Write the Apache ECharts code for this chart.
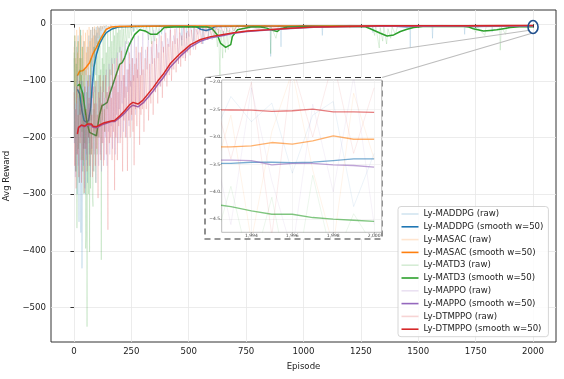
<!DOCTYPE html>
<html><head><meta charset="utf-8">
<script src="https://cdn.jsdelivr.net/npm/echarts@6/dist/echarts.min.js"></script>
<style>html,body{margin:0;padding:0;background:#fff}#c{width:564px;height:379px}</style>
</head><body><div id="c"></div>
<script>
// ---------------- DATA ----------------
const xTicks = [0, 250, 500, 750, 1000, 1250, 1500, 1750, 2000];
const yTicks = [-500, -400, -300, -200, -100, 0];
const insetXTicks = [1994, 1996, 1998, 2000];
const insetYTicks = [-4.5, -4.0, -3.5, -3.0, -2.5, -2.0];
const modelNames = ['Ly-MADDPG', 'Ly-MASAC', 'Ly-MATD3', 'Ly-MAPPO', 'Ly-DTMPPO'];

const maddpgSmooth = [[15,-115],[25,-123],[35,-153],[44,-170],[54,-173],[64,-170],[73,-147],[79,-112],[87,-76],[98,-53],[112,-35],[127,-23],[141,-15],[163,-9],[192,-5],[250,-4],[350,-3.5],[450,-3.3],[530,-4],[552,-9],[575,-11],[596,-9],[615,-4],[700,-3.5],[800,-3.3],[900,-3.6],[1000,-3.4],[1100,-3.6],[1200,-3.3],[1300,-3.5],[1400,-3.6],[1450,-4.5],[1500,-3.5],[1600,-3.4],[1700,-3.6],[1750,-4],[1800,-3.5],[1900,-3.5],[1992,-3.48],[1993,-3.48],[1994,-3.46],[1995,-3.46],[1996,-3.47],[1997,-3.46],[1998,-3.43],[1999,-3.40],[2000,-3.40]];
const masacSmooth = [[15,-91],[25,-83],[39,-82],[53,-76],[68,-68],[82,-53],[98,-41],[112,-29],[127,-18],[141,-9],[163,-5],[192,-4],[300,-3.5],[400,-3.2],[500,-3.4],[600,-3.1],[700,-3.3],[800,-3.2],[900,-3.4],[1000,-3.2],[1100,-3.3],[1200,-3.1],[1300,-3.3],[1400,-3.2],[1500,-3.4],[1600,-3.2],[1700,-3.3],[1800,-3.2],[1900,-3.1],[1992,-3.18],[1993,-3.18],[1994,-3.16],[1995,-3.10],[1996,-3.13],[1997,-3.07],[1998,-2.98],[1999,-3.04],[2000,-3.04]];
const matd3Smooth = [[15,-109],[25,-106],[39,-123],[49,-153],[58,-176],[68,-191],[83,-194],[98,-197],[105,-176],[112,-159],[122,-144],[134,-141],[145,-138],[156,-123],[170,-106],[185,-88],[199,-71],[210,-68],[221,-59],[236,-41],[250,-29],[265,-18],[286,-10],[310,-12],[335,-18],[360,-18],[378,-12],[393,-6],[436,-5],[508,-4.5],[580,-5],[600,-7],[625,-19],[639,-34],[661,-41],[683,-36],[690,-22],[712,-10],[770,-5],[813,-5],[840,-7],[857,-10],[886,-13],[900,-8],[930,-5],[1000,-4],[1100,-4.2],[1200,-4],[1270,-4.5],[1291,-8],[1335,-16],[1364,-21],[1393,-19],[1422,-13],[1451,-9],[1480,-6],[1520,-4.2],[1600,-4],[1700,-4.2],[1720,-5],[1740,-8],[1784,-12],[1813,-11],[1842,-10],[1871,-8],[1900,-6],[1940,-4.6],[1992,-4.22],[1993,-4.27],[1994,-4.35],[1995,-4.41],[1996,-4.41],[1997,-4.47],[1998,-4.5],[1999,-4.52],[2000,-4.54]];
const mappoSmooth = [[15,-192],[20,-183],[27,-186],[33,-179],[39,-177],[46,-181],[53,-182],[60,-178],[68,-180],[76,-178],[83,-182],[90,-180],[98,-183],[105,-185],[112,-180],[119,-180],[126,-177],[134,-178],[141,-175],[163,-172],[177,-172],[199,-165],[221,-157],[243,-147],[257,-143],[279,-146],[301,-139],[323,-129],[345,-118],[366,-106],[388,-95],[421,-75],[465,-56],[508,-40],[552,-30],[596,-24],[639,-21],[697,-16],[755,-13],[843,-10.5],[944,-7.5],[1045,-5.5],[1190,-4.3],[1335,-3.7],[1500,-3.5],[1700,-3.4],[1900,-3.45],[1992,-3.42],[1993,-3.42],[1994,-3.43],[1995,-3.51],[1996,-3.48],[1997,-3.48],[1998,-3.51],[1999,-3.52],[2000,-3.55]];
const dtmppoSmooth = [[15,-194],[20,-182],[27,-185],[33,-178],[39,-176],[46,-180],[53,-181],[60,-176],[68,-178],[76,-176],[83,-180],[90,-178],[98,-181],[105,-183],[112,-178],[119,-178],[126,-175],[134,-176],[141,-173],[163,-171],[177,-170],[199,-162],[221,-153],[243,-142],[257,-138],[279,-141],[301,-134],[323,-123],[345,-112],[366,-100],[388,-89],[421,-69],[465,-51],[508,-36],[552,-27],[596,-22],[639,-19],[697,-15],[755,-12],[843,-10],[944,-7],[1045,-5],[1190,-4],[1335,-3],[1500,-2.8],[1700,-2.6],[1900,-2.55],[1992,-2.5],[1993,-2.506],[1994,-2.51],[1995,-2.53],[1996,-2.52],[1997,-2.49],[1998,-2.54],[1999,-2.54],[2000,-2.55]];

const maddpgRaw = [[0,-60],[2,-210],[4,-30],[6,-150],[8,-260],[10,-90],[12,-40],[14,-300],[16,-120],[18,-20],[20,-200],[22,-349],[24,-80],[26,-160],[28,-10],[30,-368],[32,-140],[34,-60],[35,-431],[37,-180],[39,-100],[41,-250],[43,-30],[45,-220],[47,-120],[49,-300],[51,-80],[53,-240],[55,-150],[57,-40],[59,-280],[61,-110],[63,-200],[65,-20],[67,-230],[69,-90],[71,-150],[73,-10],[75,-170],[77,-60],[79,-130],[81,-5],[83,-90],[85,-40],[87,-120],[89,-8],[91,-70],[93,-20],[95,-90],[97,-5],[99,-60],[101,-15],[103,-50],[105,-4],[108,-40],[111,-6],[114,-30],[117,-3],[120,-25],[124,-4],[128,-18],[132,-3],[136,-12],[140,-2],[145,-10],[150,-3],[155,-8],[160,-2],[170,-6],[180,-2],[190,-5],[200,-2],[258,-3],[260,-14],[262,-3],[380,-3],[382,-18],[384,-3],[468,-3],[470,-38],[472,-3],[488,-3],[490,-25],[492,-3],[520,-3],[522,-30],[524,-3],[560,-3],[562,-35],[564,-3],[585,-3],[587,-22],[589,-3],[855,-3],[857,-57],[859,-3],[900,-3],[902,-40],[904,-3],[1080,-3],[1082,-20],[1084,-3],[1300,-3],[1302,-15],[1304,-3],[1463,-3],[1465,-42],[1467,-3],[1560,-3],[1562,-25],[1564,-3],[1700,-3],[1702,-18],[1704,-3],[1820,-3],[1822,-14],[1824,-3],[1992,-3.1],[1993,-2.26],[1994,-2.72],[1995,-2.38],[1996,-3.66],[1997,-2.6],[1998,-2.35],[1999,-4.27],[2000,-3.3]];
const masacRaw = [[0,-40],[2,-150],[4,-20],[6,-110],[8,-60],[10,-140],[12,-10],[14,-100],[16,-50],[18,-130],[20,-30],[22,-90],[24,-5],[26,-120],[28,-60],[30,-100],[32,-20],[34,-140],[36,-40],[38,-90],[40,-10],[42,-110],[44,-70],[46,-30],[48,-120],[50,-15],[52,-90],[54,-50],[56,-100],[58,-10],[60,-80],[62,-40],[64,-110],[66,-5],[68,-70],[70,-30],[72,-90],[74,-10],[76,-60],[78,-25],[80,-75],[82,-5],[84,-50],[86,-20],[88,-60],[90,-4],[93,-40],[96,-10],[99,-35],[102,-3],[105,-25],[108,-6],[111,-20],[114,-3],[118,-12],[122,-3],[126,-9],[130,-2],[135,-6],[140,-2],[150,-5],[160,-2],[180,-4],[200,-2.5],[400,-3],[402,-9],[404,-3],[700,-3],[702,-8],[704,-3],[1200,-3],[1202,-7],[1204,-3],[1600,-3],[1602,-6],[1604,-3],[1992,-3.9],[1993,-2.6],[1994,-4.9],[1995,-2.9],[1996,-1.8],[1997,-3.6],[1998,-5.0],[1999,-2.2],[2000,-3.4]];
const matd3Raw = [[0,-50],[2,-200],[4,-20],[6,-140],[8,-260],[10,-70],[12,-180],[13,-360],[15,-100],[17,-30],[19,-220],[21,-120],[23,-280],[25,-60],[27,-160],[29,-10],[31,-240],[33,-90],[35,-190],[37,-40],[39,-260],[41,-130],[43,-300],[45,-80],[47,-210],[49,-150],[51,-396],[53,-375],[55,-120],[57,-534],[59,-200],[61,-90],[63,-300],[65,-160],[67,-250],[68,-402],[70,-140],[72,-290],[74,-60],[76,-230],[78,-150],[80,-300],[83,-322],[85,-120],[87,-260],[89,-40],[91,-200],[93,-100],[95,-280],[97,-150],[99,-60],[101,-230],[103,-120],[105,-30],[107,-200],[109,-90],[111,-160],[113,-20],[115,-180],[117,-80],[119,-416],[121,-140],[123,-60],[125,-170],[127,-20],[129,-120],[131,-70],[133,-190],[135,-10],[138,-130],[141,-50],[144,-150],[147,-15],[150,-110],[153,-40],[156,-130],[159,-8],[162,-90],[165,-30],[168,-110],[171,-5],[174,-70],[177,-20],[180,-90],[183,-6],[186,-60],[189,-15],[192,-80],[195,-5],[198,-50],[201,-10],[205,-70],[209,-4],[213,-40],[217,-8],[221,-55],[225,-4],[230,-35],[235,-5],[240,-25],[245,-3],[250,-20],[256,-4],[262,-12],[268,-3],[275,-10],[282,-3],[290,-8],[300,-3],[310,-15],[316,-3],[325,-28],[330,-4],[338,-35],[343,-5],[352,-30],[358,-4],[366,-20],[372,-3],[390,-6],[420,-3],[440,-4],[600,-4],[610,-25],[615,-4],[625,-40],[630,-8],[636,-92],[640,-10],[648,-60],[652,-12],[660,-50],[665,-6],[672,-45],[678,-10],[686,-30],[692,-4],[700,-12],[710,-3],[855,-4],[857,-52],[860,-5],[880,-25],[890,-4],[1300,-4],[1310,-20],[1315,-4],[1330,-42],[1334,-6],[1345,-30],[1350,-5],[1362,-35],[1368,-8],[1380,-25],[1386,-5],[1400,-18],[1410,-4],[1740,-4],[1750,-15],[1756,-4],[1790,-20],[1795,-5],[1855,-4],[1857,-46],[1862,-5],[1880,-18],[1885,-4],[1992,-5.2],[1993,-3.9],[1994,-5.5],[1995,-4.1],[1996,-6.0],[1997,-3.7],[1998,-5.3],[1999,-4.4],[2000,-5.0]];
const mappoRaw = [[0,-200],[3,-110],[6,-270],[9,-140],[12,-230],[15,-90],[18,-250],[21,-130],[24,-280],[27,-150],[30,-200],[33,-100],[36,-260],[39,-140],[42,-220],[45,-110],[48,-290],[51,-160],[54,-230],[57,-100],[60,-250],[63,-140],[66,-210],[69,-90],[72,-270],[75,-130],[78,-220],[81,-100],[84,-260],[87,-150],[90,-230],[93,-110],[96,-280],[99,-140],[102,-200],[105,-100],[108,-250],[111,-130],[114,-230],[117,-110],[120,-260],[123,-120],[126,-210],[129,-90],[132,-240],[135,-130],[138,-200],[141,-80],[144,-250],[147,-120],[150,-190],[153,-70],[156,-230],[159,-110],[162,-180],[165,-60],[168,-220],[171,-100],[174,-170],[177,-60],[180,-230],[183,-100],[186,-160],[189,-50],[192,-210],[195,-90],[198,-150],[201,-40],[204,-200],[207,-100],[210,-140],[213,-40],[216,-190],[219,-90],[222,-130],[225,-30],[228,-200],[231,-80],[234,-120],[237,-30],[240,-180],[243,-70],[246,-110],[249,-25],[252,-170],[256,-60],[260,-100],[264,-20],[268,-160],[272,-60],[276,-95],[280,-20],[285,-150],[290,-50],[295,-90],[300,-15],[306,-140],[312,-45],[318,-80],[324,-12],[330,-130],[336,-40],[342,-70],[348,-10],[354,-120],[360,-35],[366,-60],[372,-8],[378,-110],[384,-30],[390,-50],[396,-6],[402,-90],[408,-25],[414,-40],[420,-5],[427,-80],[434,-20],[441,-35],[448,-4],[455,-70],[462,-15],[470,-28],[478,-4],[486,-60],[494,-12],[502,-22],[510,-3],[520,-45],[530,-8],[540,-18],[550,-3],[560,-35],[570,-6],[580,-14],[590,-3],[602,-28],[614,-5],[626,-10],[640,-3],[655,-22],[670,-4],[690,-15],[710,-3],[735,-12],[760,-3],[800,-9],[850,-3],[900,-6],[1000,-3],[1200,-5],[1500,-3],[1800,-4.5],[1992,-2.9],[1993,-4.6],[1994,-2.1],[1995,-3.8],[1996,-5.1],[1997,-2.4],[1998,-4.0],[1999,-1.9],[2000,-4.6]];
const dtmppoRaw = [[0,-120],[3,-250],[6,-150],[9,-290],[12,-110],[15,-230],[18,-160],[21,-270],[24,-100],[27,-210],[30,-140],[33,-280],[36,-120],[39,-240],[42,-170],[45,-298],[48,-110],[51,-220],[54,-150],[57,-260],[60,-100],[63,-200],[66,-130],[69,-250],[72,-90],[75,-230],[78,-160],[81,-270],[84,-110],[87,-190],[90,-140],[93,-250],[96,-100],[99,-220],[102,-160],[105,-307],[108,-120],[111,-200],[114,-90],[117,-240],[120,-140],[123,-210],[126,-100],[129,-250],[132,-150],[135,-190],[138,-90],[141,-230],[144,-120],[148,-363],[151,-110],[154,-210],[157,-80],[160,-200],[163,-130],[166,-240],[169,-70],[172,-190],[175,-110],[177,-293],[180,-90],[183,-200],[186,-60],[189,-240],[192,-120],[195,-180],[198,-70],[201,-210],[204,-100],[207,-47],[210,-190],[212,-260],[215,-90],[218,-170],[221,-60],[224,-200],[227,-110],[230,-150],[233,-259],[236,-80],[239,-170],[242,-50],[245,-200],[248,-100],[251,-160],[254,-60],[257,-190],[260,-90],[262,-249],[265,-70],[268,-150],[271,-40],[274,-180],[277,-80],[280,-140],[283,-50],[286,-213],[289,-90],[292,-160],[295,-40],[298,-150],[301,-80],[305,-190],[310,-60],[315,-150],[320,-40],[325,-170],[330,-70],[335,-140],[340,-30],[345,-160],[350,-60],[355,-120],[360,-25],[365,-140],[370,-50],[375,-110],[380,-20],[385,-130],[390,-40],[395,-100],[400,-15],[405,-110],[410,-35],[415,-90],[420,-10],[425,-100],[430,-30],[435,-80],[440,-8],[445,-85],[450,-25],[455,-70],[460,-6],[465,-75],[470,-20],[475,-60],[480,-5],[485,-65],[490,-15],[495,-50],[500,-4],[506,-55],[512,-10],[518,-40],[524,-4],[530,-45],[536,-8],[542,-30],[548,-3],[555,-35],[562,-6],[569,-25],[576,-3],[583,-28],[590,-5],[598,-20],[606,-3],[614,-22],[622,-4],[630,-16],[640,-3],[650,-18],[660,-3],[672,-14],[684,-3],[696,-12],[710,-3],[725,-10],[740,-3],[760,-9],[780,-3],[800,-8],[830,-3],[860,-7],[900,-2.5],[950,-6],[1000,-2.5],[1100,-5],[1200,-2],[1400,-4],[1600,-2],[1800,-3.5],[1992,-2.0],[1993,-3.4],[1994,-2.0],[1995,-4.8],[1996,-1.7],[1997,-3.0],[1998,-1.6],[1999,-3.3],[2000,-2.1]];

// ---------------- STYLE / LAYOUT ----------------
const colors = ['#1f77b4', '#ff7f0e', '#2ca02c', '#9467bd', '#d62728'];
const rawData = [maddpgRaw, masacRaw, matd3Raw, mappoRaw, dtmppoRaw];
const smoothData = [maddpgSmooth, masacSmooth, matd3Smooth, mappoSmooth, dtmppoSmooth];
const FONT = 'DejaVu Sans';
const RAW_ALPHA = 0.2;
const INSET = {left: 221.7, top: 80, width: 160, height: 152.3};
const BOX = {x: 205, y: 77.5, w: 177, h: 161.5};

function rgba(hex, a) {
  const n = parseInt(hex.slice(1), 16);
  return `rgba(${(n >> 16) & 255},${(n >> 8) & 255},${n & 255},${a})`;
}
const minusFmt = v => (v < 0 ? '\u2212' + Math.abs(v) : String(v));

const series = [];
const legendData = [];
modelNames.forEach((nm, i) => {
  series.push({
    name: nm + ' (raw)', type: 'line', xAxisIndex: 0, yAxisIndex: 0, data: rawData[i],
    symbol: 'none', silent: true, z: 2,
    lineStyle: {color: colors[i], width: 0.8, opacity: RAW_ALPHA}, itemStyle: {color: colors[i]}
  });
  series.push({
    name: nm + ' (smooth w=50)', type: 'line', xAxisIndex: 0, yAxisIndex: 0, data: smoothData[i],
    symbol: 'none', silent: true, z: 2,
    lineStyle: {color: colors[i], width: 1.5}, itemStyle: {color: colors[i]}
  });
  legendData.push({name: nm + ' (raw)', icon: 'rect', itemStyle: {color: rgba(colors[i], RAW_ALPHA)}});
  legendData.push({name: nm + ' (smooth w=50)', icon: 'rect', itemStyle: {color: colors[i]}});
});
modelNames.forEach((nm, i) => {
  series.push({
    name: nm + ' raw inset', type: 'line', xAxisIndex: 1, yAxisIndex: 1,
    data: rawData[i].filter(d => d[0] >= 1990), symbol: 'none', silent: true, z: 13,
    lineStyle: {color: colors[i], width: 0.6, opacity: 0.15}
  });
  series.push({
    name: nm + ' smooth inset', type: 'line', xAxisIndex: 1, yAxisIndex: 1,
    data: smoothData[i].filter(d => d[0] >= 1990), symbol: 'none', silent: true, z: 13,
    lineStyle: {color: colors[i], width: 1.3, opacity: 0.6}
  });
});

const txt = {fontFamily: FONT, fontSize: 8.6, color: '#222'};
const option = {
  animation: false,
  backgroundColor: '#fff',
  grid: [
    {left: 51, top: 10, right: 8, bottom: 37, show: true, borderColor: '#333', borderWidth: 1,
     backgroundColor: 'transparent', containLabel: false, outerBoundsMode: 'none'},
    {left: INSET.left, top: INSET.top, width: INSET.width, height: INSET.height, show: true,
     borderColor: '#aaa', borderWidth: 0.8, backgroundColor: '#fff', z: 11,
     containLabel: false, outerBoundsMode: 'none'}
  ],
  xAxis: [
    {type: 'value', gridIndex: 0, min: -100, max: 2100, name: 'Episode', nameLocation: 'middle', nameGap: 20,
     nameTextStyle: txt, axisLine: {show: false},
     axisTick: {show: true, length: 3.5, lineStyle: {color: '#333'}, customValues: xTicks},
     axisLabel: Object.assign({margin: 5, customValues: xTicks, formatter: minusFmt}, txt),
     splitLine: {show: true, lineStyle: {color: '#e7e7e7', width: 0.8}}},
    {type: 'value', gridIndex: 1, min: 1992.55, max: 2000.37, z: 12, axisLine: {show: false},
     axisTick: {show: true, length: 1.5, lineStyle: {color: '#666', width: 0.5}, customValues: insetXTicks},
     axisLabel: {margin: 1.5, customValues: insetXTicks, fontFamily: FONT, fontSize: 4.5, color: '#444'},
     splitLine: {show: true, lineStyle: {color: '#ececec', width: 0.6}}}
  ],
  yAxis: [
    {type: 'value', gridIndex: 0, min: -561, max: 25, name: 'Avg Reward', nameLocation: 'middle', nameGap: 30,
     nameTextStyle: txt, axisLine: {show: false},
     axisTick: {show: true, length: 3.5, lineStyle: {color: '#333'}, customValues: yTicks},
     axisLabel: Object.assign({margin: 5, customValues: yTicks, formatter: minusFmt}, txt),
     splitLine: {show: true, lineStyle: {color: '#e7e7e7', width: 0.8}}},
    {type: 'value', gridIndex: 1, min: -4.74, max: -1.958, z: 12, axisLine: {show: false},
     axisTick: {show: true, length: 1.5, lineStyle: {color: '#666', width: 0.5}, customValues: insetYTicks},
     axisLabel: {margin: 1.5, customValues: insetYTicks, fontFamily: FONT, fontSize: 4.5, color: '#444',
                 formatter: v => (v < 0 ? '\u2212' : '') + Math.abs(v).toFixed(1)},
     splitLine: {show: true, lineStyle: {color: '#ececec', width: 0.6}}}
  ],
  legend: {
    data: legendData, orient: 'vertical', left: 398, top: 206.5, itemWidth: 17, itemHeight: 1.6,
    itemGap: 2.8, padding: [2.5, 5, 2.5, 3.5], backgroundColor: 'rgba(255,255,255,0.85)',
    borderColor: '#cccccc', borderWidth: 0.8, borderRadius: 3, selectedMode: false, z: 20,
    textStyle: {fontFamily: FONT, fontSize: 8.6, color: '#222', lineHeight: 10}
  },
  series: series
};

const chart = echarts.init(document.getElementById('c'), null, {renderer: 'canvas'});
chart.setOption(option);

const c = chart.convertToPixel({xAxisIndex: 0, yAxisIndex: 0}, [2000, -5]);
chart.setOption({
  graphic: {elements: [
    {type: 'rect', z: 10, silent: true, shape: {x: BOX.x, y: BOX.y, width: BOX.w, height: BOX.h},
     style: {fill: '#fff', stroke: '#333', lineWidth: 1.1, lineDash: [6, 4]}},
    {type: 'line', z: 10, silent: true, shape: {x1: c[0] - 5, y1: c[1] + 3.5, x2: BOX.x, y2: BOX.y},
     style: {stroke: '#bdbdbd', lineWidth: 1.2}},
    {type: 'line', z: 10, silent: true, shape: {x1: c[0] - 2, y1: c[1] + 6.5, x2: BOX.x + BOX.w, y2: BOX.y},
     style: {stroke: '#bdbdbd', lineWidth: 1.2}},
    {type: 'ellipse', z: 10, silent: true, shape: {cx: c[0], cy: c[1], rx: 5, ry: 6.5},
     style: {fill: 'none', stroke: '#1f4e8c', lineWidth: 1.6}}
  ]}
});
</script></body></html>
